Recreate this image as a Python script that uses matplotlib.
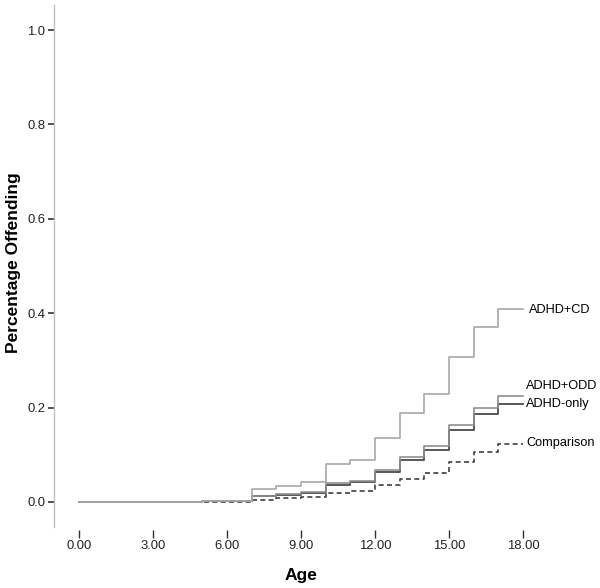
import matplotlib
matplotlib.use("Agg")
import matplotlib.pyplot as plt

plt.rcParams['font.family'] = ['Liberation Sans', 'DejaVu Sans']

# ages where the curves change (step 'post')
ages = [0, 5, 7, 8, 9, 10, 11, 12, 13, 14, 15, 16, 17, 18]

adhd_cd = [0, 0.003, 0.028, 0.033, 0.043, 0.080, 0.088, 0.135, 0.189, 0.228, 0.308, 0.370, 0.408, 0.408]
adhd_odd = [0, 0.003, 0.013, 0.016, 0.021, 0.040, 0.045, 0.068, 0.096, 0.119, 0.163, 0.200, 0.225, 0.225]
adhd_only = [0, 0.003, 0.012, 0.015, 0.019, 0.037, 0.042, 0.063, 0.090, 0.110, 0.153, 0.186, 0.207, 0.207]
comparison = [0, 0.0, 0.004, 0.008, 0.010, 0.018, 0.023, 0.035, 0.049, 0.061, 0.084, 0.105, 0.122, 0.122]

x_ticks = [0, 3, 6, 9, 12, 15, 18]
y_ticks = [0.0, 0.2, 0.4, 0.6, 0.8, 1.0]

fig = plt.figure(figsize=(6, 5.88), dpi=100)
ax = fig.add_axes([54/600, 61/588, 544/600, 522/588])

ax.step(ages, comparison, where='post', color='#404040', lw=1.2, ls=(0, (3, 2)))
ax.step(ages, adhd_only, where='post', color='#4a4a4a', lw=1.3)
ax.step(ages, adhd_odd, where='post', color='#8f8f8f', lw=1.2)
ax.step(ages, adhd_cd, where='post', color='#a8a8a8', lw=1.2)

# labels at the line ends
ax.text(18.24, 0.407, 'ADHD+CD', fontsize=9.2, va='center', ha='left')
ax.text(18.12, 0.246, 'ADHD+ODD', fontsize=9.2, va='center', ha='left')
ax.text(18.12, 0.208, 'ADHD-only', fontsize=9.2, va='center', ha='left')
ax.text(18.12, 0.125, 'Comparison', fontsize=9.2, va='center', ha='left')

ax.set_xlim(-1.013, 21.04)
ax.set_ylim(-0.053, 1.053)

ax.set_xticks(x_ticks)
ax.set_xticklabels(['%.2f' % t for t in x_ticks])
ax.set_yticks(y_ticks)
ax.set_yticklabels(['%.1f' % t for t in y_ticks])

for s in ['top', 'right']:
    ax.spines[s].set_visible(False)
ax.spines['left'].set_color('#c0c0c0')
ax.spines['left'].set_linewidth(1.0)
ax.spines['bottom'].set_position(('outward', 2))
ax.spines['bottom'].set_linewidth(0)

ax.tick_params(axis='x', direction='out', length=5.8, width=1.0, color='#333333',
               labelsize=9.4, pad=1.5, labelcolor='#222222')
ax.tick_params(axis='y', direction='out', length=4.3, width=1.2, color='#333333',
               labelsize=9.4, pad=2, labelcolor='#222222')

ax.set_xlabel('Age', fontsize=12.5, fontweight='bold', va='center')
ax.xaxis.set_label_coords(0.454, -0.092)
ax.set_ylabel('Percentage Offending', fontsize=12.5, fontweight='bold', va='center')
ax.yaxis.set_label_coords(-0.075, 0.506)

fig.savefig('out.png', dpi=100)
